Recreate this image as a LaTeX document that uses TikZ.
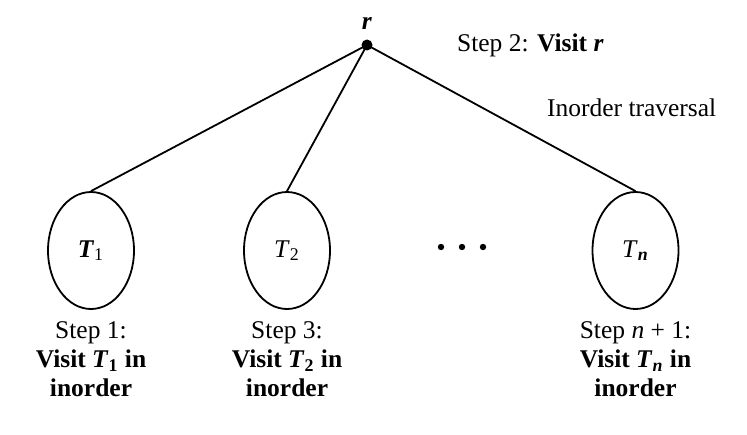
\documentclass[tikz,border=0pt]{standalone}
\usepackage{fontspec}
\setmainfont{Liberation Serif}
\usetikzlibrary{shapes.geometric, positioning}

\begin{document}
\begin{tikzpicture}[x=0.5pt, y=0.5pt, on grid, node distance=98pt,
    font=\fontsize{12.75}{14.5}\selectfont,
    subtree/.style={ellipse, draw, line width=0.9pt, minimum width=43pt, minimum height=58.5pt, inner sep=0pt},
    steptext/.style={align=center}]
    \useasboundingbox (0,0) rectangle (747,434);

    \node[circle, fill, inner sep=0pt, minimum size=5.5pt] (r) at (367,389) {};
    \node (rlab) [above=11pt of r] {\textbf{\textit{r}}};
    \node[anchor=west] (s2) at (450,389) {Step 2: \textbf{Visit \textit{r}}};
    \node[anchor=west] (io) at (540,326) {Inorder traversal};

    \node[subtree] (t1) at (91,183.5) {\textbf{\textit{T}}\textsubscript{1}};
    \node[subtree] (t2) [right=of t1] {\textit{T}\textsubscript{2}};
    \node[subtree] (tn) [right=174.25pt of t2] {\textit{T}\textsubscript{\textbf{\textit{n}}}};

    \foreach \x in {441,462,483}
        \fill (\x,187) circle (1.6pt);

    \node[steptext] (l1) [below=54.5pt of t1] {Step 1:\\ \textbf{Visit \textit{T}\textsubscript{1} in}\\ \textbf{inorder}};
    \node[steptext] (l3) [below=54.5pt of t2] {Step 3:\\ \textbf{Visit \textit{T}\textsubscript{2} in}\\ \textbf{inorder}};
    \node[steptext] (ln) [below=54.5pt of tn] {Step \textit{n} + 1:\\ \textbf{Visit \textit{T}\textsubscript{\textit{n}} in}\\ \textbf{inorder}};

    \draw[line width=0.9pt]
    (r.center) -- (t1.north)
    (r.center) -- (t2.north)
    (r.center) -- (tn.north);
\end{tikzpicture}
\end{document}
